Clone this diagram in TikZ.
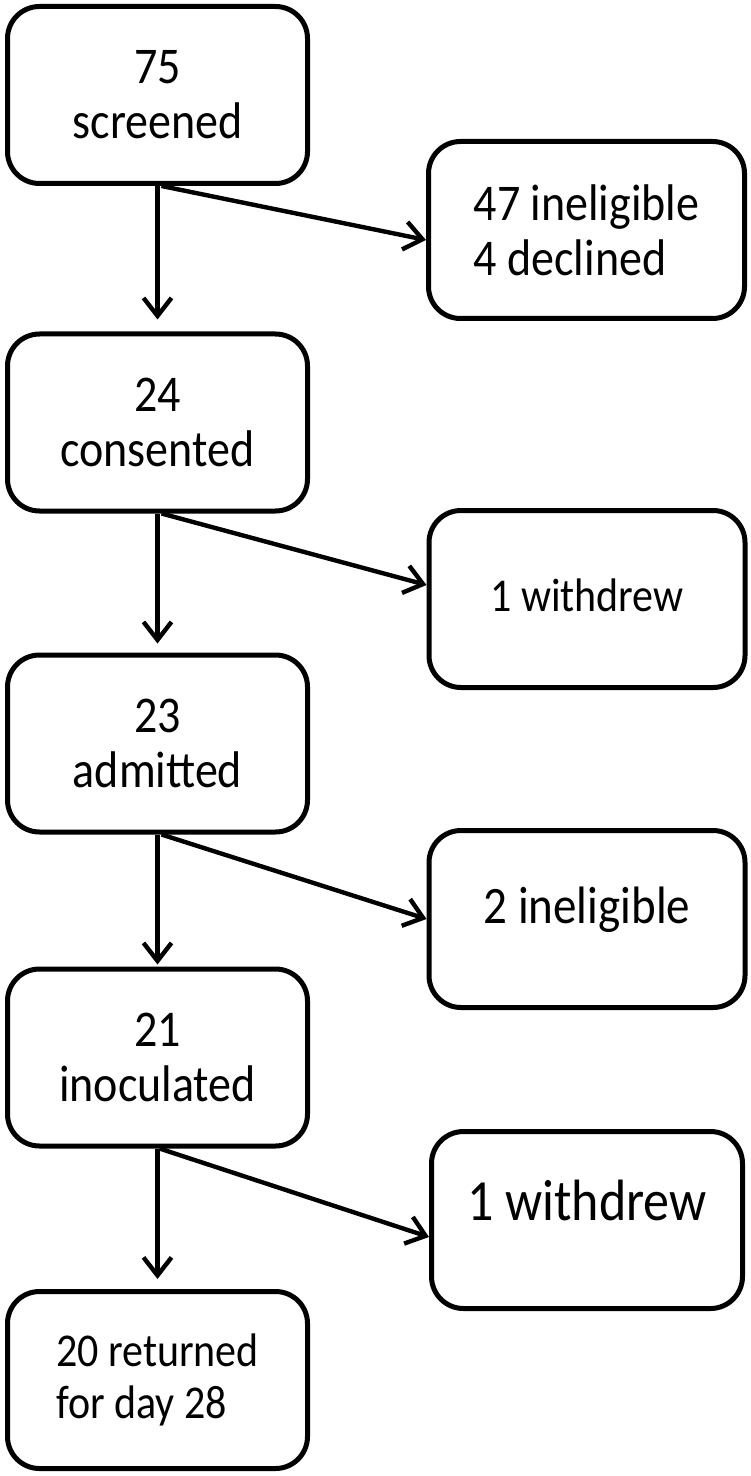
\documentclass[tikz,border=0pt]{standalone}
\usepackage{fontspec}
\setmainfont{Carlito}
\usetikzlibrary{arrows.meta}
\newcommand\vs[1]{\scalebox{1}[1.12]{#1}}
\begin{document}
\begin{tikzpicture}[x=0.5pt,y=-0.5pt,
  box/.style={draw, line width=2.5pt, rounded corners=16pt, minimum width=150pt,
    minimum height=88.5pt, inner sep=0pt, align=center,
    font=\fontsize{23}{27.5}\selectfont},
  rbox/.style={box, minimum width=158pt},
  arr/.style={line width=2.2pt, -{Straight Barb[length=9pt,width=14pt]}}]
\useasboundingbox (0,0) rectangle (750,1476);
% left column
\node[box] (s) at (157.5,95) {\vs{75}\\\vs{screened}};
\node[box] (c) at (157.5,422.5) {\vs{24}\\\vs{consented}};
\node[box] (a) at (157.5,743.5) {\vs{23}\\\vs{admitted}};
\node[box] (i) at (157.5,1057.5) {\vs{21}\\\vs{inoculated}};
\node[box, align=left, font=\fontsize{21}{26}\selectfont] (r) at (157.5,1380) {\vs{20 returned}\\\vs{for day 28}};
% right column
\node[rbox, align=left] (x1) at (586.5,230) {\vs{47 ineligible}\\\vs{4 declined}};
\node[rbox, font=\fontsize{21}{26}\selectfont] (x2) at (587,599) {\raisebox{-6pt}[0pt][0pt]{\vs{1 withdrew}}};
\node[rbox, font=\fontsize{23.5}{28}\selectfont] (x3) at (587,919) {\raisebox{-2pt}[0pt][0pt]{\vs{2 ineligible}}};
\node[rbox, minimum width=155.5pt, font=\fontsize{26}{30}\selectfont] (x4) at (587,1220) {\raisebox{0pt}[0pt][0pt]{\vs{1 withdrew}}};
% arrows
\draw[arr, shorten >=6pt] (s.south) -- (c.north);
\draw[arr, shorten >=4.5pt] (c.south) -- (a.north);
\draw[arr, shorten >=1pt] (a.south) -- (i.north);
\draw[arr, shorten >=5pt] (i.south) -- (r.north);
\draw[arr] ([xshift=2pt]s.south) -- ([yshift=-5pt]x1.west);
\draw[arr] ([xshift=2pt]c.south) -- ([yshift=7pt]x2.west);
\draw[arr] ([xshift=2pt]a.south) -- (x3.west);
\draw[arr] ([xshift=1pt]i.south) -- ([yshift=-8.5pt]x4.west);
\end{tikzpicture}
\end{document}
